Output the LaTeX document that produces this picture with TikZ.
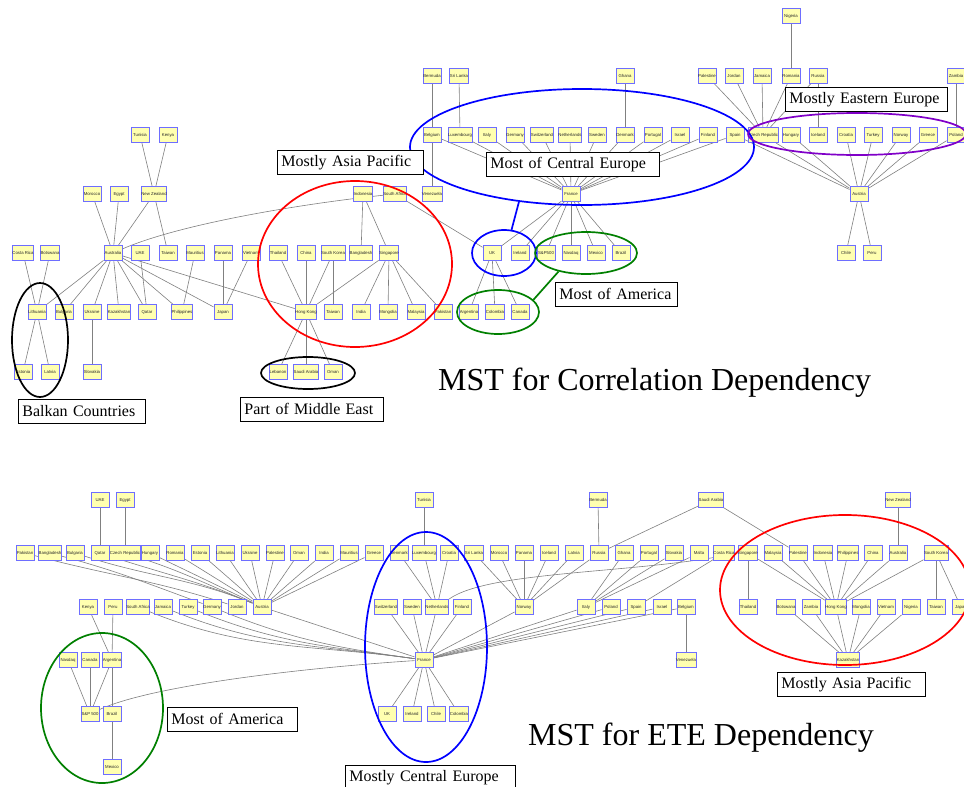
\documentclass[tikz,border=0pt]{standalone}
\usepackage{fontspec}
\setmainfont{Liberation Serif}
\newfontfamily\cnfam{Liberation Sans}
\usetikzlibrary{shapes.geometric,shadows}
\pgfdeclarelayer{paper}
\pgfdeclarelayer{background}
\pgfsetlayers{paper,background,main}
\definecolor{cnfill}{RGB}{255,255,176}
\definecolor{cnline}{RGB}{110,110,255}
\definecolor{cntext}{RGB}{40,40,40}
\definecolor{edgegray}{RGB}{128,128,128}
\definecolor{grpgreen}{RGB}{0,128,0}
\definecolor{grppurple}{RGB}{128,0,200}
\tikzset{
  cn/.style={draw=cnline, fill=cnfill, line width=0.9pt, minimum width=18pt,
    minimum height=15pt, inner sep=0pt, text=cntext,
    font={\cnfam\fontsize{4.3}{5}\selectfont}},
  ed/.style={draw=edgegray, line width=0.6pt},
  grp/.style={ellipse, draw, line width=1.7pt, inner sep=0pt, fill=none},
  tag/.style={draw=black, fill=white, line width=0.8pt, align=left,
    inner xsep=4pt, inner ysep=0pt, anchor=north west, minimum height=24pt,
    font=\fontsize{16}{18}\selectfont,
    drop shadow={shadow xshift=1pt, shadow yshift=-1pt, fill=gray!70, opacity=1}},
  ttl/.style={anchor=base west, inner sep=0pt, font=\fontsize{32}{36}\selectfont}
}
\begin{document}
\begin{tikzpicture}[x=1pt,y=-1pt]
\useasboundingbox (0,0) rectangle (964,787);
\begin{pgfonlayer}{paper}
\fill[white] (0,0) rectangle (964,787);
\end{pgfonlayer}

% ---------------- correlation tree: nodes ----------------
\node[cn] (tNig) at (791,16) {Nigeria};
\foreach \n/\x/\t in {tBer/432/Bermuda, tSri/459/Sri Lanka, tGha/625/Ghana,
  tPal/707/Palestine, tJor/734/Jordan, tJam/762/Jamaica, tRom/791/Romania,
  tRus/818/Russia, tZam/956/Zambia}
  \node[cn] (\n) at (\x,76) {\t};
\foreach \n/\x/\t in {tTun/140/Tunisia, tKen/168/Kenya,
  tBel/432/Belgium, tLux/460/Luxembourg, tIta/487/Italy, tGer/515/Germany,
  tSwi/542/Switzerland, tNet/570/Netherlands, tSwe/597/Sweden,
  tDen/625/Denmark, tPor/653/Portugal, tIsr/680/Israel, tFin/708/Finland,
  tSpa/735/Spain, tCze/763/Czech Republic, tHun/791/Hungary,
  tIce/818/Iceland, tCro/846/Croatia, tTur/873/Turkey, tNor/901/Norway,
  tGre/928/Greece, tPol/956/Poland}
  \node[cn] (\n) at (\x,135) {\t};
\foreach \n/\x/\t in {tMor/92/Morocco, tEgy/119/Egypt, tNZ/154/New Zealand,
  tIdn/363/Indonesia, tSAf/395/South Africa, tVen/432/Venezuela,
  tFra/571/France, tAut/859/Austria}
  \node[cn] (\n) at (\x,194) {\t};
\foreach \n/\x/\t in {tCR/23/Costa Rica, tBot/50/Botswana, tAus/113/Australia,
  tUAE/140/UAE, tTwA/168/Taiwan, tMau/195/Mauritius, tPan/223/Panama,
  tVie/251/Vietnam, tTha/278/Thailand, tChi/306/China, tSKo/333/South Korea,
  tBan/361/Bangladesh, tSin/389/Singapore, tUK/492/UK, tIre/520/Ireland,
  tSP/546/S\&P500, tNas/571/Nasdaq, tMex/596/Mexico, tBra/621/Brazil,
  tChl/846/Chile, tPer/872/Peru}
  \node[cn] (\n) at (\x,253) {\t};
\foreach \n/\x/\t in {tLit/37/Lithuania, tBul/64/Bulgaria, tUkr/92/Ukraine,
  tKaz/119/Kazakhstan, tQat/147/Qatar, tPhi/182/Philippines, tJap/223/Japan,
  tHK/306/Hong Kong, tTwB/333/Taiwan, tInd/361/India, tMon/388/Mongolia,
  tMal/416/Malaysia, tPak/443/Pakistan, tArg/469/Argentina,
  tCol/495/Colombia, tCan/520/Canada}
  \node[cn] (\n) at (\x,312) {\t};
\foreach \n/\x/\t in {tEst/23/Estonia, tLat/50/Latvia, tSlo/92/Slovakia,
  tLeb/278/Lebanon, tSau/306/Saudi Arabia, tOma/333/Oman}
  \node[cn] (\n) at (\x,372) {\t};

% ---------------- ETE tree: nodes ----------------
\foreach \n/\x/\t in {bUAE/100/UAE, bEgy/125/Egypt, bTun/424/Tunisia,
  bBer/598/Bermuda, bSau/711/Saudi Arabia, bNZ/898/New Zealand}
  \node[cn] (\n) at (\x,500) {\t};
\foreach \n/\x/\t in {bPak/25/Pakistan, bBan/50/Bangladesh, bBul/75/Bulgaria,
  bQat/100/Qatar, bCze/125/Czech Republic, bHun/150/Hungary,
  bRom/175/Romania, bEst/200/Estonia, bLit/225/Lithuania, bUkr/250/Ukraine,
  bPalA/275/Palestine, bOma/299/Oman, bInd/324/India, bMau/349/Mauritius,
  bGre/374/Greece, bDen/399/Denmark, bLux/424/Luxembourg, bCro/449/Croatia,
  bSri/474/Sri Lanka, bMor/499/Morocco, bPan/524/Panama, bIce/549/Iceland,
  bLat/574/Latvia, bRus/599/Russia, bGha/624/Ghana, bPor/649/Portugal,
  bSlo/674/Slovakia, bMlt/699/Malta, bCR/724/Costa Rica,
  bSin/748/Singapore, bMys/773/Malaysia, bPalB/798/Palestine,
  bIdn/823/Indonesia, bPhi/848/Philippines, bChi/873/China,
  bAus/898/Australia, bSKo/936/South Korea}
  \node[cn] (\n) at (\x,553) {\t};
\foreach \n/\x/\t in {bKen/88/Kenya, bPer/113/Peru, bSAf/138/South Africa,
  bJam/163/Jamaica, bTur/188/Turkey, bGer/212/Germany, bJor/237/Jordan,
  bAut/262/Austria, bSwi/386/Switzerland, bSwe/412/Sweden,
  bNet/437/Netherlands, bFin/462/Finland, bNor/524/Norway, bIta/586/Italy,
  bPol/611/Poland, bSpa/636/Spain, bIsr/662/Israel, bBel/686/Belgium,
  bTha/748/Thailand, bBot/786/Botswana, bZam/811/Zambia,
  bHK/836/Hong Kong, bMon/861/Mongolia, bVie/886/Vietnam,
  bNig/911/Nigeria, bTai/936/Taiwan, bJap/961/Japan}
  \node[cn] (\n) at (\x,607) {\t};
\foreach \n/\x/\t in {bNas/68/Nasdaq, bCan/90/Canada, bArg/112/Argentina,
  bFra/424/France, bVen/686/Venezuela, bKaz/848/Kazakhstan}
  \node[cn] (\n) at (\x,660) {\t};
\foreach \n/\x/\t in {bSP/90/S\&P 500, bBra/112/Brazil, bUK/387/UK,
  bIre/412/Ireland, bChl/436/Chile, bCol/459/Colombia}
  \node[cn] (\n) at (\x,714) {\t};
\node[cn] (bMex) at (112,767) {Mexico};

% ---------------- tree edges (behind the nodes) ----------------
\begin{pgfonlayer}{background}
\foreach \a/\b in {tTun/tNZ, tKen/tNZ, tNZ/tAus, tNZ/tTwA, tMor/tAus,
  tEgy/tAus, tAus/tLit, tAus/tBul, tAus/tUkr, tAus/tKaz, tAus/tQat,
  tAus/tPhi, tAus/tJap, tAus/tHK, tUAE/tQat, tMau/tPhi, tPan/tJap,
  tVie/tJap, tCR/tLit, tBot/tLit, tLit/tEst, tLit/tLat, tUkr/tSlo,
  tIdn/tBan, tIdn/tSin, tSAf/tUK, tTha/tHK, tChi/tHK, tSKo/tHK,
  tSKo/tTwB, tSin/tHK, tSin/tInd, tSin/tMon, tSin/tMal, tSin/tPak,
  tHK/tLeb, tHK/tSau, tHK/tOma, tBer/tBel, tBel/tVen, tSri/tLux,
  tGha/tDen, tUK/tArg, tUK/tCol, tUK/tCan, tPal/tCze, tJor/tCze,
  tJam/tCze, tRom/tCze, tRus/tCze, tNig/tRom, tRus/tIce, tZam/tPol,
  tAut/tChl, tAut/tPer}
  \draw[ed] (\a) -- (\b);
\foreach \s in {tBel, tLux, tIta, tGer, tSwi, tNet, tSwe, tDen, tPor, tIsr,
  tFin, tSpa, tUK, tIre, tSP, tNas, tMex, tBra}
  \draw[ed] (\s) -- (tFra);
\foreach \s in {tSpa, tCze, tHun, tCro, tTur, tNor, tGre, tPol}
  \draw[ed] (\s) -- (tAut);
\draw[ed] (tAus) .. controls (180,224) and (300,204) .. (tSAf);

\foreach \a/\b in {bUAE/bQat, bEgy/bCze, bTun/bLux, bBer/bRus, bSau/bRus,
  bSau/bPalB, bNZ/bAus, bHun/bAut, bRom/bAut, bEst/bAut, bLit/bAut,
  bUkr/bAut, bPalA/bAut, bOma/bAut, bInd/bAut, bMau/bAut, bGre/bAut,
  bDen/bNet, bLux/bNet, bCro/bNet, bSri/bNor, bMor/bNor, bPan/bNor,
  bIce/bNor, bLat/bNor, bRus/bNor, bGha/bIta, bPor/bIta, bSlo/bIta,
  bMlt/bIta, bCR/bSpa, bBel/bVen, bSin/bTha, bSin/bHK, bMys/bHK,
  bPalB/bHK, bIdn/bHK, bPhi/bHK, bChi/bHK, bAus/bHK, bSKo/bHK,
  bSKo/bTai, bSKo/bJap, bBot/bKaz, bZam/bKaz, bHK/bKaz, bMon/bKaz,
  bVie/bKaz, bNig/bKaz, bKen/bArg, bPer/bArg, bArg/bBra, bBra/bMex,
  bArg/bSP, bNas/bSP, bCan/bSP}
  \draw[ed] (\a) -- (\b);
\foreach \s in {bAut, bSwi, bSwe, bNet, bFin, bNor, bIta, bPol, bSpa, bIsr,
  bBel, bUK, bIre, bChl, bCol}
  \draw[ed] (\s) -- (bFra);
\foreach \s in {bBul, bQat, bCze}
  \draw[ed] (\s) to[out=-18,in=158] (bAut);
\draw[ed] (bPak) to[out=-15,in=162] (bJor);
\draw[ed] (bBan) to[out=-15,in=160] (bGer);
\foreach \s in {bSAf, bJam, bTur, bGer}
  \draw[ed] (\s) to[out=-22,in=172] (bFra);
\draw[ed] (bSin.west) .. controls (640,574) and (490,570) .. (bNet.north east);
\draw[ed] (bSP) .. controls (150,686) and (300,668) .. (bFra);
\end{pgfonlayer}

% ---------------- group outlines ----------------
\node[grp, draw=blue, minimum width=344pt, minimum height=116pt] (gCE) at (582,147) {};
\node[grp, draw=blue, minimum width=64pt, minimum height=46pt] (gUK) at (504,253) {};
\node[grp, draw=grpgreen, minimum width=102pt, minimum height=42pt] (gAmA) at (586,253) {};
\node[grp, draw=grpgreen, minimum width=82pt, minimum height=44pt] (gAmB) at (498,312) {};
\node[grp, draw=red, minimum width=194pt, minimum height=166pt] (gAP) at (355,264) {};
\node[grp, draw=black, minimum width=94pt, minimum height=32pt] (gME) at (308,373) {};
\node[grp, draw=black, minimum width=56pt, minimum height=114pt] (gBal) at (40,340) {};
\node[grp, draw=grppurple, minimum width=218pt, minimum height=42pt] (gEE) at (857,134) {};
\draw[blue, line width=1.7pt] (gCE.221) -- (gUK.72);
\draw[grpgreen, line width=1.7pt] (gAmA.214) -- (gAmB.19);

\node[grp, draw=grpgreen, minimum width=122pt, minimum height=150pt] (hAm) at (102,708) {};
\node[grp, draw=blue, minimum width=122pt, minimum height=230pt] (hCE) at (426,647) {};
\node[grp, draw=red, minimum width=250pt, minimum height=150pt] (hAP) at (845,590) {};

% ---------------- group captions ----------------
\node[tag, text width=138pt] (cAP) at (277,150) {Mostly Asia Pacific};
\node[tag, text width=165pt] (cCE) at (486,152) {Most of Central Europe};
\node[tag, text width=154pt] (cEE) at (785,87) {Mostly Eastern Europe};
\node[tag, text width=114pt] (cAm) at (555,282) {Most of America};
\node[tag, text width=119pt] (cBal) at (18,399) {Balkan Countries};
\node[tag, text width=135pt] (cME) at (240,397) {Part of Middle East};

\node[tag, text width=122pt] (dAm) at (167,707) {Most of America};
\node[tag, text width=140pt] (dAP) at (777,672) {Mostly Asia Pacific};
\node[tag, text width=162pt] (dCE) at (345,765) {Mostly Central Europe};

% ---------------- titles ----------------
\node[ttl] (title1) at (438,390) {MST for Correlation Dependency};
\node[ttl] (title2) at (528,745) {MST for ETE Dependency};
\end{tikzpicture}
\end{document}
